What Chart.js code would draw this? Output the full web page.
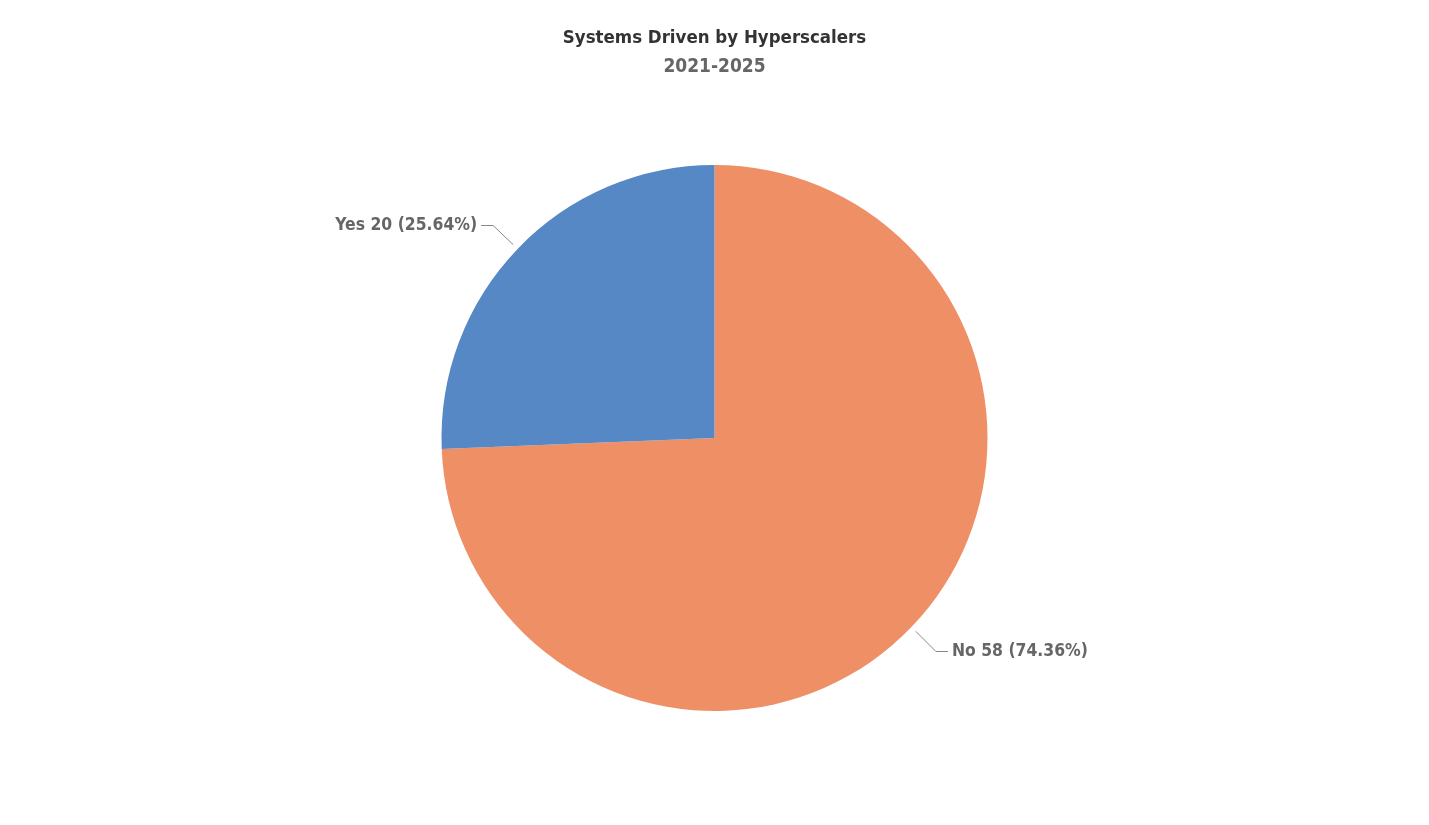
<!DOCTYPE html>
<html>
<head>
<meta charset="utf-8">
<script src="https://cdn.jsdelivr.net/npm/chart.js@4.4.1/dist/chart.umd.min.js"></script>
<style>
  html, body { margin: 0; padding: 0; background: #fff; }
  #wrap { width: 1429px; height: 825px; }
</style>
</head>
<body>
<div id="wrap"><canvas id="pieChart"></canvas></div>
<script>
const labels = ['No', 'Yes'];
const counts = [58, 20];
const colors = ['#ee8f66', '#5588c5'];

const FONT = '"DejaVu Sans Condensed", "DejaVu Sans", sans-serif';

// draws "Name n (p%)" with a small leader line outside each slice
const outsideLabels = {
    id: 'outsideLabels',
    afterDatasetsDraw(chart) {
        const ctx = chart.ctx;
        const meta = chart.getDatasetMeta(0);
        const total = counts.reduce((a, b) => a + b, 0);
        ctx.save();
        meta.data.forEach((arc, i) => {
            const mid = (arc.startAngle + arc.endAngle) / 2;
            const r = arc.outerRadius;
            const cos = Math.cos(mid), sin = Math.sin(mid);
            const x0 = arc.x + cos * (r + 6), y0 = arc.y + sin * (r + 6);
            const x1 = arc.x + cos * (r + 34), y1 = Math.round(arc.y + sin * (r + 34)) + 0.5;
            const right = cos >= 0;
            const x2 = x1 + (right ? 12 : -12);
            ctx.strokeStyle = '#888';
            ctx.lineWidth = 1;
            ctx.beginPath();
            ctx.moveTo(x0, y0);
            ctx.lineTo(x1, y1);
            ctx.lineTo(x2, y1);
            ctx.stroke();
            const pct = (counts[i] / total * 100).toFixed(2);
            ctx.font = 'bold 17.4px ' + FONT;
            ctx.fillStyle = '#666';
            ctx.textBaseline = 'middle';
            ctx.textAlign = right ? 'left' : 'right';
            ctx.fillText(`${labels[i]} ${counts[i]} (${pct}%)`, x2 + (right ? 4 : -4), y1);
        });
        ctx.restore();
    }
};

new Chart(document.getElementById('pieChart'), {
    type: 'pie',
    data: {
        labels: labels,
        datasets: [{
            data: counts,
            backgroundColor: colors,
            borderWidth: 0,
            hoverOffset: 0
        }]
    },
    options: {
        responsive: true,
        maintainAspectRatio: false,
        animation: false,
        layout: { padding: { top: 0, bottom: 114, left: 0, right: 0 } },
        plugins: {
            legend: { display: false },
            tooltip: { enabled: false },
            title: {
                display: true,
                text: 'Systems Driven by Hyperscalers',
                color: '#333',
                font: { family: FONT, size: 18.5, weight: 'bold' },
                padding: { top: 27, bottom: 6 }
            },
            subtitle: {
                display: true,
                text: '2021-2025',
                color: '#666',
                font: { family: FONT, size: 19, weight: 'bold' },
                padding: { top: 0, bottom: 87 }
            }
        }
    },
    plugins: [outsideLabels]
});
</script>
</body>
</html>
